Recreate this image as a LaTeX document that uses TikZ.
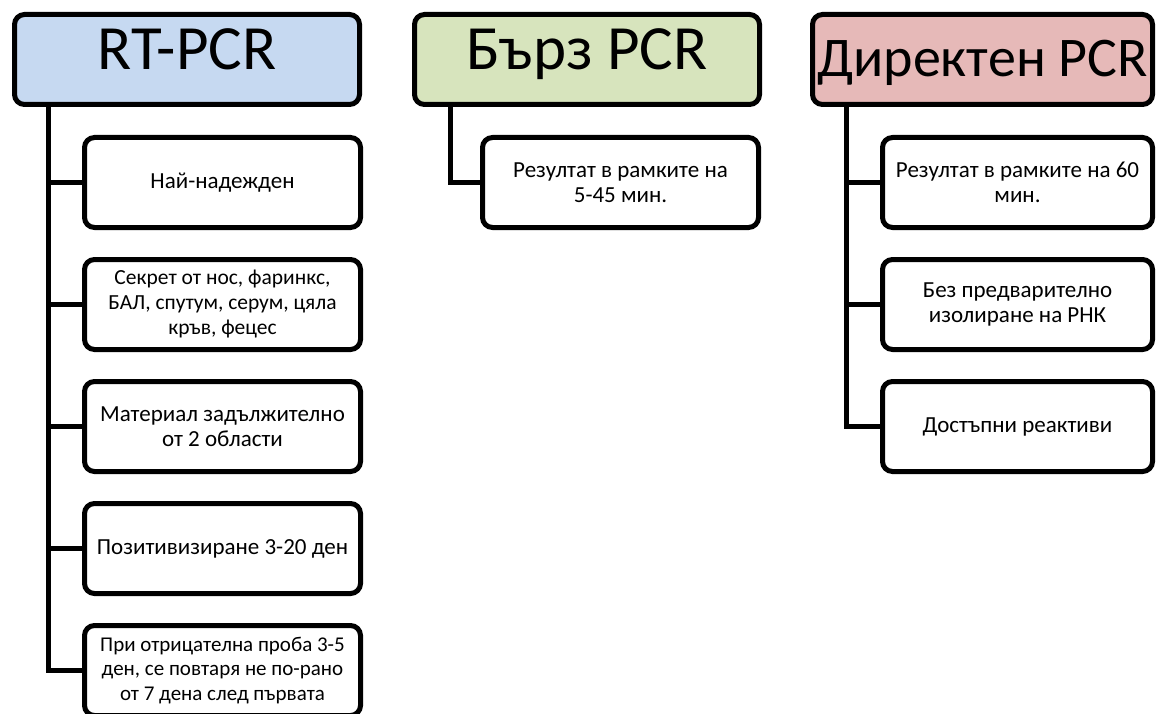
\documentclass[tikz,border=0pt]{standalone}
\usepackage{fontspec}
\setmainfont{Carlito}
\usetikzlibrary{positioning}

\definecolor{rtblue}{HTML}{C6D9F1}
\definecolor{fastgreen}{HTML}{D7E4BD}
\definecolor{directred}{HTML}{E6B9B8}

\tikzset{
  head/.style={draw, line width=5pt, rounded corners=10pt, inner sep=4pt,
    minimum width=345pt, minimum height=90pt,
    font=\fontsize{63}{72}\selectfont, text height=37pt, text depth=16pt},
  item/.style={draw, line width=5pt, rounded corners=10pt, fill=white,
    inner sep=3pt, minimum width=276pt, minimum height=90pt, align=center,
    font=\fontsize{23}{25}\selectfont},
  link/.style={line width=5pt}
}

\begin{document}
\begin{tikzpicture}
  \useasboundingbox (0,0) rectangle (1156pt,-714pt);

  % Define header nodes
  \node[head, fill=rtblue, anchor=north west] (rt) at (12pt,-12pt) {RT-PCR};
  \node[head, fill=fastgreen, right=50pt of rt] (bz) {Бърз PCR};
  \node[head, fill=directred, right=48pt of bz, minimum width=340pt,
    font=\fontsize{56}{64}\selectfont, text depth=2pt] (dr) {Директен PCR};

  % Define item nodes
  \node[item, below right=28pt and 70pt of rt.south west] (r1) {Най-надежден};
  \node[item, below=27pt of r1, font=\fontsize{21.5}{25}\selectfont] (r2) {Секрет от нос, фаринкс,\\БАЛ, спутум, серум, цяла\\кръв, фецес};
  \node[item, below=27pt of r2] (r3) {Материал задължително\\от 2 области};
  \node[item, below=27pt of r3] (r4) {Позитивизиране 3-20 ден};
  \node[item, below=27pt of r4, font=\fontsize{21}{24.5}\selectfont] (r5) {При отрицателна проба 3-5\\ден, се повтаря не по-рано\\от 7 дена след първата};

  \node[item, below right=28pt and 68pt of bz.south west] (b1) {Резултат в рамките на\\5-45 мин.};

  \node[item, below right=28pt and 70pt of dr.south west, minimum width=270pt] (d1) {Резултат в рамките на 60\\мин.};
  \node[item, below=27pt of d1, minimum width=270pt] (d2) {Без предварително\\изолиране на РНК};
  \node[item, below=27pt of d2, minimum width=270pt] (d3) {Достъпни реактиви};

  % Connect the nodes
  \coordinate (rtroot) at ([xshift=36pt]rt.south west);
  \coordinate (bzroot) at ([xshift=38pt]bz.south west);
  \coordinate (drroot) at ([xshift=36pt]dr.south west);

  \draw[link] (rtroot) |- (r5.west);
  \foreach \n in {1,...,4}
    \draw[link] (rtroot |- r\n.west) -- (r\n.west);

  \draw[link] (bzroot) |- (b1.west);

  \draw[link] (drroot) |- (d3.west);
  \foreach \n in {1,2}
    \draw[link] (drroot |- d\n.west) -- (d\n.west);

\end{tikzpicture}
\end{document}
